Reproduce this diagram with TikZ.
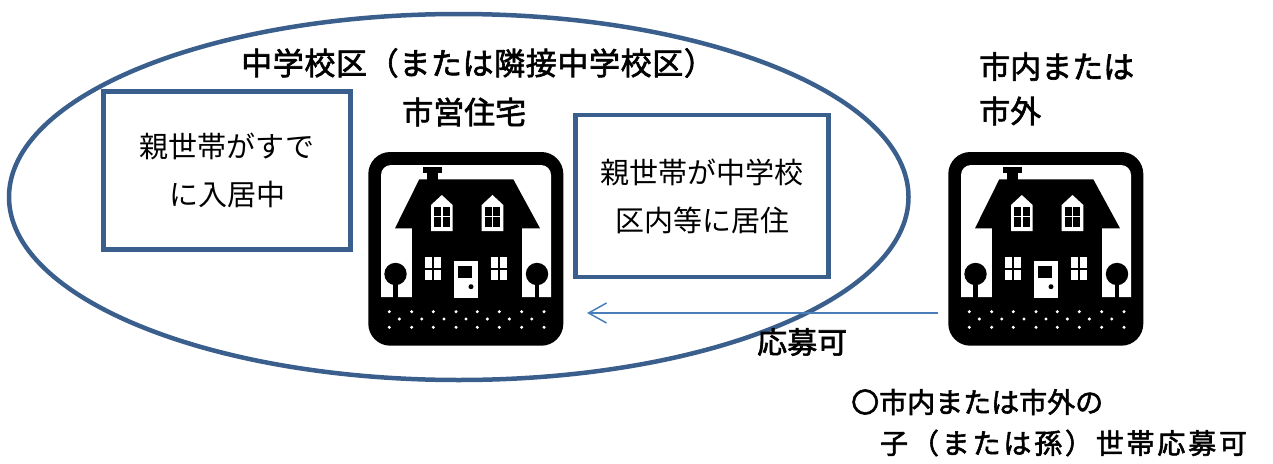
\documentclass[tikz,border=0pt]{standalone}
\usepackage{fontspec}
\newfontfamily\jp{Noto Sans CJK JP}
\newfontfamily\jpb{Noto Sans CJK JP}[FakeBold=2]
\usetikzlibrary{shapes.geometric,arrows.meta}
\definecolor{frameblue}{RGB}{58,95,140}
\definecolor{arrowblue}{RGB}{74,126,187}
\tikzset{
  housepic/.pic={
    % white inner field with rounded top corners
    \fill[white] (21,157) -- (21,35) arc[start angle=180,end angle=270,radius=10]
      -- (181,25) arc[start angle=270,end angle=360,radius=10] -- (191,157) -- cycle;
    % chimney
    \fill[black] (63.3,26.7) rectangle (81.7,32.5);
    \fill[black] (66.7,32) rectangle (78.3,40);
    % roof and body
    \fill[black] (59.3,39.3) -- (153.3,39.3) -- (180,88.3) -- (35,88.3) -- cycle;
    \fill[black] (51.7,88) rectangle (162.3,157.5);
    % dormers
    \fill[white] (71,91) -- (71,65) -- (81.8,55) -- (92.6,65) -- (92.6,91) -- cycle;
    \fill[white] (121.7,91) -- (121.7,65) -- (132.5,55) -- (143.3,65) -- (143.3,91) -- cycle;
    \foreach \dx in {0,50.7}{
      \fill[black] (74+\dx,66.7) rectangle (81+\dx,76);
      \fill[black] (82.5+\dx,66.7) rectangle (89.5+\dx,76);
      \fill[black] (74+\dx,77.3) rectangle (81+\dx,86.7);
      \fill[black] (82.5+\dx,77.3) rectangle (89.5+\dx,86.7);
    }
    % lower windows
    \foreach \wx in {65,131}{
      \fill[white] (\wx,117.3) rectangle (\wx+16,140);
      \fill[black] (\wx+6.8,117.3) rectangle (\wx+9.2,140);
      \fill[black] (\wx,127.5) rectangle (\wx+16,129.8);
    }
    % door
    \fill[white] (94,121) rectangle (117.7,157.5);
    \fill[black] (97.7,125.7) rectangle (111.7,138.3);
    \fill[black] (111,146.7) circle[radius=2.5];
    % trees
    \fill[black] (35.5,134) circle[radius=11.2];
    \fill[black] (33.3,134) rectangle (37.7,157.5);
    \fill[black] (177,134) circle[radius=11.2];
    \fill[black] (174.8,134) rectangle (179.2,157.5);
    % ground dots
    \foreach \px in {29.3,51.7,73.3,96,117.3,139.3,161.7,184}{
      \fill[white] (\px,171.7) circle[radius=1.7];
      \fill[white] (\px,187.3) circle[radius=1.7];
    }
    \foreach \px in {39.3,61.7,84,106,127.3,149.3,171.7}{
      \fill[white] (\px,179) circle[radius=1.7];
    }
  },
  iconframe/.style={fill=black, rounded corners=22pt, minimum width=195pt,
    minimum height=193.7pt, inner sep=0pt, outer sep=0pt},
  labelbox/.style={draw=frameblue, line width=4.5pt, align=center, inner sep=0pt,
    font=\jp\fontsize{29}{48}\selectfont},
  boldtext/.style={anchor=west, inner sep=0pt, font=\jpb\fontsize{31}{31}\selectfont},
  notetext/.style={anchor=west, inner sep=0pt, font=\jpb\fontsize{28}{28}\selectfont},
  arrowline/.style={draw=arrowblue, line width=1.5pt,
    -{Straight Barb[length=18pt,width=20pt]}},
}
\begin{document}
\begin{tikzpicture}[x=1pt,y=-1pt]
\useasboundingbox (0,0) rectangle (1273,463);
% school district ellipse
\node[ellipse, draw=frameblue, line width=4.5pt, minimum width=899.5pt,
  minimum height=366pt, inner sep=0pt] (zone) at (458.75,197) {};
% text boxes
\node[labelbox, minimum width=247pt, minimum height=158pt] (box1) at (227,170.5)
  {親世帯がすで\\に入居中};
\node[labelbox, minimum width=253pt, minimum height=162pt] (box2) at (702,196)
  {親世帯が中学校\\区内等に居住};
% house icons
\node[iconframe] (h1) at (465.8,248.85) {};
\pic at (360,140) {housepic};
\node[iconframe] (h2) at (1045.8,248.85) {};
\pic at (940,140) {housepic};
% labels
\node[boldtext] (title) at (241,63) {\addfontfeatures{LetterSpace=2}中学校区（または隣接中学校区）};
\node[boldtext] (city) at (402,112) {市営住宅};
\node[boldtext] (out1) at (979,66.5) {市内または};
\node[boldtext] (out2) at (979,111) {市外};
\node[boldtext, font=\jpb\fontsize{30}{30}\selectfont] (ok) at (757,342) {応募可};
\node[notetext] (note1) at (851,402) {〇市内または市外の};
\node[notetext] (note2) at (880,443) {\addfontfeatures{LetterSpace=10}子（または孫）世帯応募可};
% arrow
\coordinate (arrS) at (938,313);
\coordinate (arrE) at (587,313);
\draw[arrowline] (arrS) -- (arrE);
\end{tikzpicture}
\end{document}
